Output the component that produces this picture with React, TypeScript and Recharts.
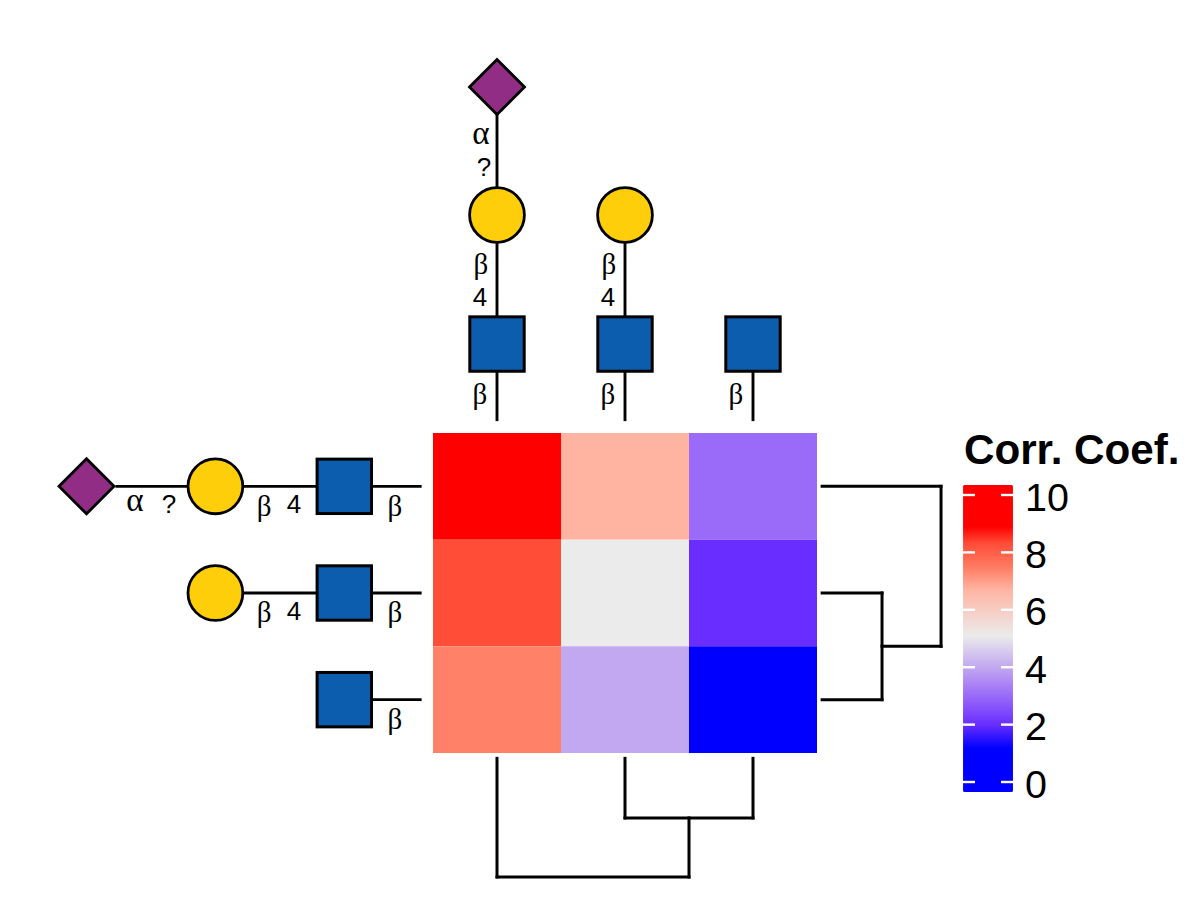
import React from "react";
import { ScatterChart, Scatter, XAxis, YAxis, ReferenceArea, ReferenceLine } from "recharts";

// Heatmap
const rowNames = ["r0", "r1", "r2"];
const colNames = ["c0", "c1", "c2"];
const heatValues = [
  [10, 6.7, 3],
  [8.3, 5.1, 2],
  [7.4, 4, 0],
];

// Colour scale (value -> colour)
const scaleValues = [1.18, 2, 3, 4, 5.1, 6.7, 7.4, 8.3, 8.9];
const scaleColors = ["#0000FF", "#692EFF", "#9A6AF8", "#C2A8F0", "#EBEBEB", "#FFB4A2", "#FF8168", "#FF4D38", "#FF0000"];

// Legend
const legendTicks = [0, 2, 4, 6, 8, 10];
const legendRange = [-0.35, 10.35];
const legendTitle = "Corr. Coef.";

// Glycan symbols, in column / row units
const squares = [
  { x: -0.693, y: 0.5 }, { x: -0.693, y: 1.5 }, { x: -0.693, y: 2.5 },
  { x: 0.5, y: -0.834 }, { x: 1.5, y: -0.834 }, { x: 2.5, y: -0.834 },
];
const circles = [
  { x: -1.7, y: 0.5 }, { x: -1.7, y: 1.5 },
  { x: 0.5, y: -2.044 }, { x: 1.5, y: -2.044 },
];
const diamonds = [
  { x: -2.707, y: 0.5 },
  { x: 0.5, y: -3.244 },
];

// Linkage labels
const linkLabels = [
  { x: -2.328, y: 0.63, t: "α" }, { x: -2.063, y: 0.666, t: "?" },
  { x: -1.32, y: 0.684, t: "β" }, { x: -1.086, y: 0.666, t: "4" }, { x: -0.297, y: 0.684, t: "β" },
  { x: -1.32, y: 1.678, t: "β" }, { x: -1.086, y: 1.669, t: "4" }, { x: -0.297, y: 1.678, t: "β" },
  { x: -0.297, y: 2.681, t: "β" },
  { x: 0.375, y: -2.81, t: "α" }, { x: 0.398, y: -2.494, t: "?" },
  { x: 0.375, y: -1.584, t: "β" }, { x: 0.367, y: -1.275, t: "4" }, { x: 0.367, y: -0.366, t: "β" },
  { x: 1.375, y: -1.584, t: "β" }, { x: 1.367, y: -1.275, t: "4" }, { x: 1.367, y: -0.366, t: "β" },
  { x: 2.367, y: -0.366, t: "β" },
];

// Glycan bonds [x1, y1, x2, y2]
const bonds = [
  [-2.47, 0.5, -1.92, 0.5], [-1.48, 0.5, -0.91, 0.5], [-0.47, 0.5, -0.1, 0.5],
  [-1.48, 1.5, -0.91, 1.5], [-0.47, 1.5, -0.1, 1.5], [-0.47, 2.5, -0.1, 2.5],
  [0.5, -2.98, 0.5, -2.31], [0.5, -1.78, 0.5, -1.1], [0.5, -0.57, 0.5, -0.125],
  [1.5, -1.78, 1.5, -1.1], [1.5, -0.57, 1.5, -0.125], [2.5, -0.57, 2.5, -0.125],
];

// Dendrograms [x1, y1, x2, y2]
const dendroBottom = [
  [0.5, 3.05, 0.5, 4.1625], [1.5, 3.05, 1.5, 3.609], [2.5, 3.05, 2.5, 3.609],
  [1.5, 3.609, 2.5, 3.609], [2, 3.609, 2, 4.1625], [0.5, 4.1625, 2, 4.1625],
];
const dendroRight = [
  [3.04, 0.5, 3.969, 0.5], [3.04, 1.5, 3.508, 1.5], [3.04, 2.5, 3.508, 2.5],
  [3.508, 1.5, 3.508, 2.5], [3.508, 2, 3.969, 2], [3.969, 0.5, 3.969, 2],
];

const legendBarX = [4.141, 4.531];
const legendTickData = legendTicks.map((v) => ({ x: (legendBarX[0] + legendBarX[1]) / 2, y: v }));
const titleData = [{ x: 4.148, y: 0.15, t: legendTitle }];

const W = 1200;
const H = 900;
const CW = 128;
const CH = 320 / 3;
const LEFT = 433;
const TOP = 433;
const xDomain = [-LEFT / CW, (W - LEFT) / CW];
const yDomain = [-TOP / CH, (H - TOP) / CH];
const legendDomain = [-4.111, 27.247];
const font = "'Liberation Sans', Arial, sans-serif";
const serif = "'Liberation Serif', serif";
const INK = "#000000";

function colorOf(v: number): string {
  if (v <= scaleValues[0]) return scaleColors[0];
  const n = scaleValues.length - 1;
  if (v >= scaleValues[n]) return scaleColors[n];
  let i = 0;
  while (v > scaleValues[i + 1]) i++;
  const t = (v - scaleValues[i]) / (scaleValues[i + 1] - scaleValues[i]);
  const hex = (c: string, k: number) => parseInt(c.slice(k, k + 2), 16);
  const mix = [1, 3, 5].map((k) =>
    Math.round(hex(scaleColors[i], k) * (1 - t) + hex(scaleColors[i + 1], k) * t)
  );
  return `rgb(${mix.join(",")})`;
}

const SquareShape = (p: any) => (
  <rect x={p.cx - 27.2} y={p.cy - 27.2} width={54.4} height={54.4} fill="#0C5DAE" stroke={INK} strokeWidth={3} />
);
const CircleShape = (p: any) => (
  <circle cx={p.cx} cy={p.cy} r={27.4} fill="#FFCE0A" stroke={INK} strokeWidth={2.8} />
);
const DiamondShape = (p: any) => (
  <path
    d={`M${p.cx - 27.5} ${p.cy}L${p.cx} ${p.cy - 27.5}L${p.cx + 27.5} ${p.cy}L${p.cx} ${p.cy + 27.5}Z`}
    fill="#912D85"
    stroke={INK}
    strokeWidth={2.8}
    strokeLinejoin="miter"
  />
);
const LinkLabelShape = (p: any) => {
  const t = p.payload.t;
  const greek = t === "α" || t === "β";
  return (
    <text
      x={p.cx}
      y={p.cy}
      textAnchor="middle"
      dominantBaseline="central"
      fontFamily={greek ? serif : font}
      fontSize={t === "α" ? 33 : greek ? 29 : 26}
      fill={INK}
    >
      {t}
    </text>
  );
};
const TitleShape = (p: any) => (
  <text x={p.cx} y={p.cy} fontFamily={font} fontSize={42.2} fontWeight={700} fill={INK} dominantBaseline="central">
    {p.payload.t}
  </text>
);
const LegendTickShape = (p: any) => (
  <g>
    <line x1={p.cx - 25} x2={p.cx - 13} y1={p.cy} y2={p.cy} stroke="#FFFFFF" strokeWidth={2.4} />
    <line x1={p.cx + 13} x2={p.cx + 25} y1={p.cy} y2={p.cy} stroke="#FFFFFF" strokeWidth={2.4} />
    <text x={p.cx + 37} y={p.cy + 1.5} dominantBaseline="central" fontFamily={font} fontSize={39.5} fill={INK}>
      {p.payload.y}
    </text>
  </g>
);

const segments = (list: number[][], prefix: string, width: number) =>
  list.map(([x1, y1, x2, y2], i) => (
    <ReferenceLine
      key={`${prefix}${i}`}
      segment={[{ x: x1, y: y1 }, { x: x2, y: y2 }]}
      stroke={INK}
      strokeWidth={width}
      strokeLinecap="square"
      ifOverflow="visible"
    />
  ));

export default function App() {
  return (
    <div style={{ position: "absolute", left: 0, top: 0, width: W, height: H, background: "#fff" }}>
      <ScatterChart width={W} height={H} margin={{ top: 0, right: 0, bottom: 0, left: 0 }}>
        <defs>
          <linearGradient id="corrGrad" x1="0" y1="0" x2="0" y2="1">
            {[...scaleValues].reverse().map((v) => (
              <stop
                key={v}
                offset={(legendRange[1] - v) / (legendRange[1] - legendRange[0])}
                stopColor={colorOf(v)}
              />
            ))}
          </linearGradient>
        </defs>
        <XAxis type="number" dataKey="x" domain={xDomain} hide allowDataOverflow />
        <YAxis type="number" dataKey="y" domain={yDomain} reversed hide allowDataOverflow width={0} />
        <YAxis yAxisId="legend" type="number" dataKey="y" domain={legendDomain} hide allowDataOverflow width={0} />

        {rowNames.map((_, r) =>
          colNames.map((_, c) => (
            <ReferenceArea
              key={`${r}-${c}`}
              x1={c}
              x2={c + 1}
              y1={r}
              y2={r + 1}
              fill={colorOf(heatValues[r][c])}
              fillOpacity={1}
              stroke="none"
            />
          ))
        )}

        <ReferenceArea
          yAxisId="legend"
          x1={legendBarX[0]}
          x2={legendBarX[1]}
          y1={legendRange[0]}
          y2={legendRange[1]}
          fill="url(#corrGrad)"
          fillOpacity={1}
          stroke="none"
          radius={1.5}
        />

        {segments(bonds, "b", 2.9)}
        {segments(dendroBottom, "db", 3)}
        {segments(dendroRight, "dr", 3)}

        <Scatter data={squares} shape={SquareShape} isAnimationActive={false} />
        <Scatter data={circles} shape={CircleShape} isAnimationActive={false} />
        <Scatter data={diamonds} shape={DiamondShape} isAnimationActive={false} />
        <Scatter data={linkLabels} shape={LinkLabelShape} isAnimationActive={false} />
        <Scatter data={titleData} shape={TitleShape} isAnimationActive={false} />
        <Scatter yAxisId="legend" data={legendTickData} shape={LegendTickShape} isAnimationActive={false} />
      </ScatterChart>
    </div>
  );
}
